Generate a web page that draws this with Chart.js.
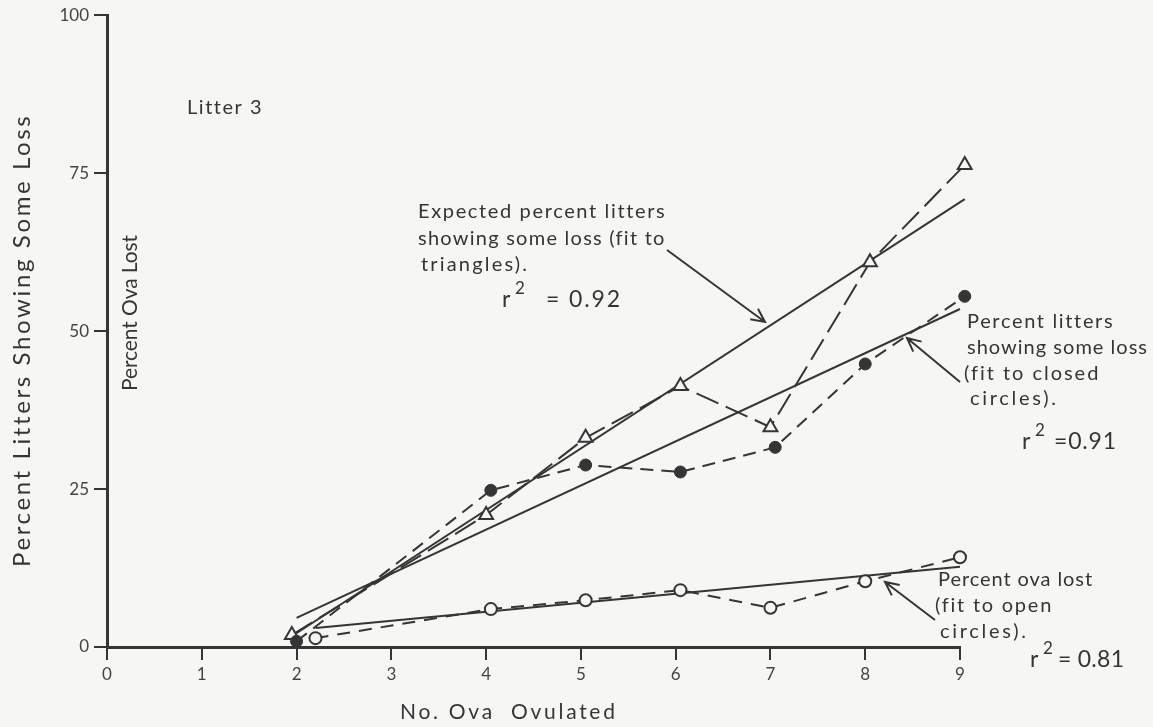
<!DOCTYPE html>
<html>
<head>
<meta charset="utf-8">
<script src="https://cdn.jsdelivr.net/npm/chart.js@4.4.1/dist/chart.umd.min.js"></script>
<style>
  html, body { margin: 0; padding: 0; background: #f6f6f4; }
  #wrap { width: 1153px; height: 727px; position: relative; }
</style>
</head>
<body>
<div id="wrap"><canvas id="myChart" width="1153" height="727"></canvas></div>
<script>
// data: x = no. ova ovulated, y = percent

var xTicks = [0, 1, 2, 3, 4, 5, 6, 7, 8, 9]
var yTicks = [0, 25, 50, 75, 100]

// triangles : percent litters showing some loss
var triX = [1.95, 4.0, 5.05, 6.05, 7.0, 8.05, 9.05]
var triY = [1.9, 20.9, 33.1, 41.3, 34.8, 60.9, 76.3]

// closed circles
var closedX = [2.0, 4.05, 5.05, 6.05, 7.05, 8.0, 9.05]
var closedY = [0.9, 24.8, 28.8, 27.7, 31.6, 44.8, 55.5]

// open circles : percent ova lost
var openX = [2.2, 4.05, 5.05, 6.05, 7.0, 8.0, 9.0]
var openY = [1.4, 6.0, 7.4, 9.0, 6.2, 10.4, 14.2]

// fitted lines (end points)
var triFitX = [1.97, 9.05]
var triFitY = [1.9, 70.9]
var closedFitX = [2.0, 9.0]
var closedFitY = [4.6, 53.5]
var openFitX = [2.2, 9.0]
var openFitY = [3.0, 12.7]

var ink = '#353535'
var paper = '#f6f6f4'
var fontName = 'Lato, "Open Sans", sans-serif'

function pts(xs, ys) {
    var out = []
    for (var i = 0; i < xs.length; i++) {
        out.push({x: xs[i], y: ys[i]})
    }
    return out
}

// FUNCTION: write text stretched (letter spacing) to a given width
function fitText(ctx, text, x, y, width, size) {
    ctx.font = size + 'px ' + fontName
    ctx.letterSpacing = '0px'
    var w = ctx.measureText(text).width
    var sp = (width - w) / Math.max(1, text.length - 1)
    ctx.letterSpacing = sp.toFixed(2) + 'px'
    ctx.fillText(text, x, y)
    ctx.letterSpacing = '0px'
}

// FUNCTION: draw a line with an open arrow head at (x2,y2)
function arrow(ctx, x1, y1, x2, y2) {
    var a = Math.atan2(y2 - y1, x2 - x1)
    var h = 15
    ctx.beginPath()
    ctx.moveTo(x1, y1)
    ctx.lineTo(x2, y2)
    ctx.moveTo(x2 - h * Math.cos(a - 0.45), y2 - h * Math.sin(a - 0.45))
    ctx.lineTo(x2, y2)
    ctx.lineTo(x2 - h * Math.cos(a + 0.45), y2 - h * Math.sin(a + 0.45))
    ctx.stroke()
}

// r squared label with a raised 2
function rsq(ctx, x, y, rest, restX, restW) {
    fitText(ctx, 'r', x, y, 8, 23)
    fitText(ctx, '2', x + 13, y - 11, 10, 17)
    fitText(ctx, rest, restX, y, restW, 23)
}

var notes = {
    id: 'notes',
    afterDraw: function(chart) {
        var ctx = chart.ctx
        ctx.save()
        ctx.fillStyle = ink
        ctx.strokeStyle = ink
        ctx.lineWidth = 2
        ctx.textBaseline = 'middle'
        ctx.textAlign = 'left'

        // axis titles
        ctx.save()
        ctx.translate(22, 342)
        ctx.rotate(-Math.PI / 2)
        fitText(ctx, 'Percent Litters Showing Some Loss', -225, 0, 450, 24)
        ctx.restore()

        ctx.save()
        ctx.translate(130, 313)
        ctx.rotate(-Math.PI / 2)
        fitText(ctx, 'Percent Ova Lost', -78, 0, 156, 21)
        ctx.restore()

        fitText(ctx, 'No. Ova  Ovulated', 400, 712, 215, 21)

        fitText(ctx, 'Litter 3', 187, 108, 74, 20)

        // triangles note
        fitText(ctx, 'Expected percent litters', 418, 212, 246, 20)
        fitText(ctx, 'showing some loss (fit to', 418, 239, 246, 20)
        fitText(ctx, 'triangles).', 421, 265, 106, 20)
        rsq(ctx, 502, 300, '= 0.92', 546, 74)
        arrow(ctx, 667, 250, 765, 322)

        // closed circles note
        fitText(ctx, 'Percent litters', 967, 322, 145, 20)
        fitText(ctx, 'showing some loss', 967, 348, 180, 20)
        fitText(ctx, '(fit to closed', 964, 374, 134, 20)
        fitText(ctx, 'circles).', 970, 399, 86, 20)
        rsq(ctx, 1022, 442, '=0.91', 1054, 62)
        arrow(ctx, 960, 382, 907, 338)

        // open circles note
        fitText(ctx, 'Percent ova lost', 938, 580, 154, 20)
        fitText(ctx, '(fit to open', 935, 606, 116, 20)
        fitText(ctx, 'circles).', 940, 632, 86, 20)
        rsq(ctx, 1030, 660, '= 0.81', 1058, 66)
        arrow(ctx, 935, 620, 885, 582)

        ctx.restore()
    }
}

var ctx = document.getElementById('myChart').getContext('2d')

var chart = new Chart(ctx, {
    type: 'scatter',
    data: {
        datasets: [
            {   // open circles
                data: pts(openX, openY),
                showLine: true,
                clip: false,
                borderColor: ink,
                borderWidth: 2,
                borderDash: [13, 9],
                pointStyle: 'circle',
                pointRadius: 6,
                pointBorderWidth: 2,
                pointBackgroundColor: paper,
                pointBorderColor: ink
            },
            {   // closed circles
                data: pts(closedX, closedY),
                showLine: true,
                clip: false,
                borderColor: ink,
                borderWidth: 2,
                borderDash: [13, 8],
                pointStyle: 'circle',
                pointRadius: 6,
                pointBorderWidth: 1,
                pointBackgroundColor: ink,
                pointBorderColor: ink
            },
            {   // triangles
                data: pts(triX, triY),
                showLine: true,
                clip: false,
                borderColor: ink,
                borderWidth: 2,
                borderDash: [24, 8],
                pointStyle: 'triangle',
                pointRadius: 8,
                pointBorderWidth: 2,
                pointBackgroundColor: paper,
                pointBorderColor: ink
            },
            {
                data: pts(triFitX, triFitY),
                showLine: true,
                clip: false,
                borderColor: ink,
                borderWidth: 2,
                pointRadius: 0
            },
            {
                data: pts(closedFitX, closedFitY),
                showLine: true,
                clip: false,
                borderColor: ink,
                borderWidth: 2,
                pointRadius: 0
            },
            {
                data: pts(openFitX, openFitY),
                showLine: true,
                clip: false,
                borderColor: ink,
                borderWidth: 2,
                pointRadius: 0
            }
        ]
    },
    options: {
        responsive: false,
        animation: false,
        events: [],
        layout: { padding: { left: 0, right: 193, top: 15, bottom: 0 } },
        plugins: {
            legend: { display: false },
            tooltip: { enabled: false }
        },
        scales: {
            x: {
                type: 'linear',
                min: 0,
                max: 9,
                afterBuildTicks: function(scale) {
                    scale.ticks = xTicks.map(function(v) { return {value: v} })
                },
                afterFit: function(scale) { scale.height = 80 },
                grid: {
                    drawOnChartArea: false,
                    drawTicks: true,
                    tickLength: 13,
                    color: ink,
                    lineWidth: 2
                },
                border: { display: true, color: ink, width: 3 },
                ticks: {
                    color: '#444',
                    padding: 4,
                    font: { family: fontName, size: 17 }
                }
            },
            y: {
                type: 'linear',
                min: 0,
                max: 100,
                afterBuildTicks: function(scale) {
                    scale.ticks = yTicks.map(function(v) { return {value: v} })
                },
                afterFit: function(scale) { scale.width = 107 },
                grid: {
                    drawOnChartArea: false,
                    drawTicks: true,
                    tickLength: 13,
                    color: ink,
                    lineWidth: 2
                },
                border: { display: true, color: ink, width: 3 },
                ticks: {
                    color: '#444',
                    padding: 5,
                    font: { family: fontName, size: 17 }
                }
            }
        }
    },
    plugins: [notes]
})
</script>
</body>
</html>
